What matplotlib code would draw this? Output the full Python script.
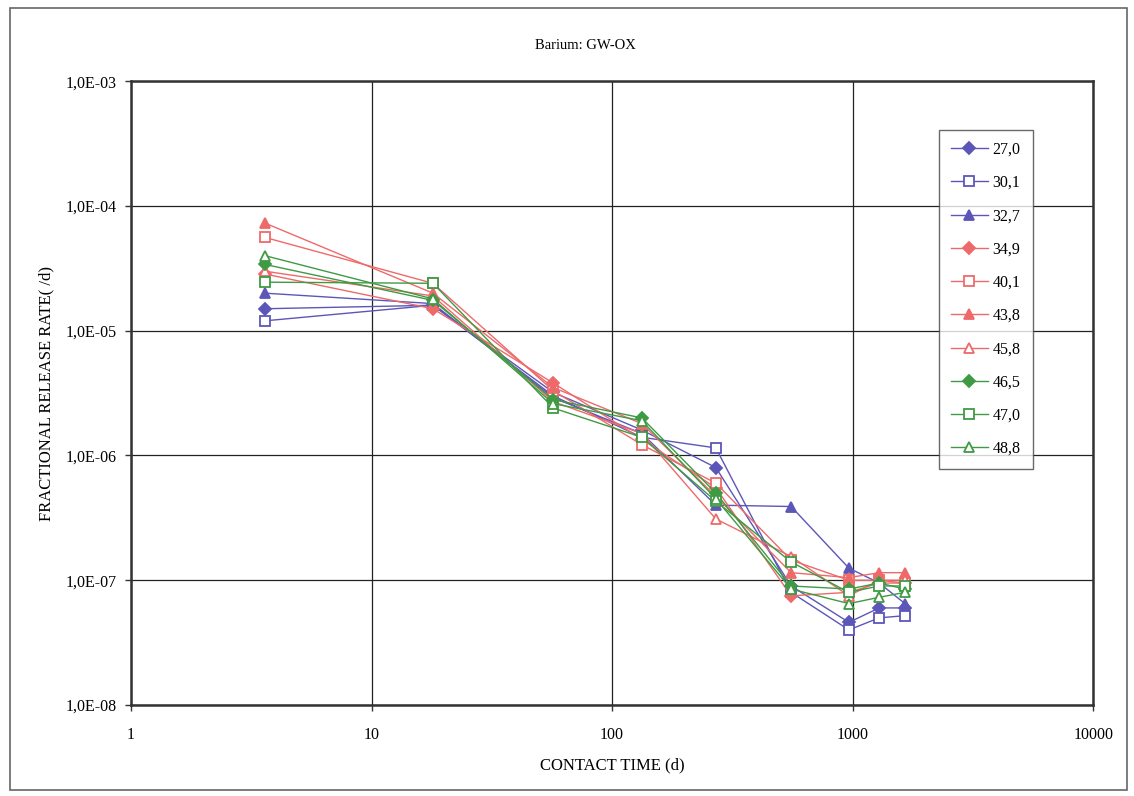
import matplotlib
matplotlib.use("Agg")
import matplotlib.pyplot as plt
from matplotlib.ticker import FuncFormatter, LogLocator, NullLocator
import numpy as np

# Contact times (d)
contact_time = [3.6, 18, 57, 133, 270, 555, 965, 1290, 1650]

# Series labels and fractional release rates (/d)
labels = ["27,0", "30,1", "32,7", "34,9", "40,1", "43,8", "45,8", "46,5", "47,0", "48,8"]

rate_27_0 = [1.5e-5, 1.6e-5, 3.2e-6, 1.6e-6, 8.0e-7, 9.0e-8, 4.6e-8, 6.0e-8, 6.0e-8]
rate_30_1 = [1.2e-5, 1.6e-5, 3.0e-6, 1.4e-6, 1.15e-6, 8.0e-8, 4.0e-8, 5.0e-8, 5.2e-8]
rate_32_7 = [2.0e-5, 1.65e-5, 2.9e-6, 1.5e-6, 4.0e-7, 3.9e-7, 1.25e-7, 9.5e-8, 6.5e-8]
rate_34_9 = [2.85e-5, 1.5e-5, 3.8e-6, 1.35e-6, 5.5e-7, 7.5e-8, 8.0e-8, 9.5e-8, 9.5e-8]
rate_40_1 = [5.6e-5, 2.4e-5, 3.3e-6, 1.22e-6, 6.0e-7, 1.45e-7, 1.0e-7, 1.0e-7, 9.5e-8]
rate_43_8 = [7.3e-5, 2.0e-5, 3.5e-6, 1.8e-6, 4.7e-7, 1.15e-7, 1.05e-7, 1.15e-7, 1.15e-7]
rate_45_8 = [3.0e-5, 1.9e-5, 2.7e-6, 1.5e-6, 3.1e-7, 1.55e-7, 7.5e-8, 1.0e-7, 1.0e-7]
rate_46_5 = [3.4e-5, 1.75e-5, 2.8e-6, 2.0e-6, 5.0e-7, 9.0e-8, 8.5e-8, 9.5e-8, 8.5e-8]
rate_47_0 = [2.45e-5, 2.4e-5, 2.4e-6, 1.4e-6, 4.3e-7, 1.4e-7, 8.0e-8, 9.0e-8, 9.0e-8]
rate_48_8 = [4.0e-5, 1.8e-5, 2.6e-6, 1.9e-6, 4.5e-7, 8.5e-8, 6.5e-8, 7.3e-8, 8.0e-8]

series = [rate_27_0, rate_30_1, rate_32_7, rate_34_9, rate_40_1,
          rate_43_8, rate_45_8, rate_46_5, rate_47_0, rate_48_8]

blue = "#5c56b8"
red = "#ee6a6a"
green = "#3f9a44"
styles = [
    (blue, "D", True), (blue, "s", False), (blue, "^", True),
    (red, "D", True), (red, "s", False), (red, "^", True), (red, "^", False),
    (green, "D", True), (green, "s", False), (green, "^", False),
]

plt.rcParams["font.family"] = ["Liberation Serif", "DejaVu Serif"]

fig = plt.figure(figsize=(11.34, 7.96), dpi=100)
ax = fig.add_axes([0.1155, 0.1143, 0.8485, 0.7837])

for vals, lab, (col, mk, filled) in zip(series, labels, styles):
    ax.plot(contact_time, vals, color=col, lw=1.0, marker=mk,
            markersize=6.5 if mk != "D" else 6,
            markerfacecolor=col if filled else "white",
            markeredgecolor=col, markeredgewidth=1.3, label=lab)

ax.set_xscale("log")
ax.set_yscale("log")
ax.set_xlim(1, 10000)
ax.set_ylim(1e-8, 1e-3)

ax.xaxis.set_major_locator(LogLocator(base=10, numticks=10))
ax.xaxis.set_minor_locator(NullLocator())
ax.yaxis.set_major_locator(LogLocator(base=10, numticks=10))
ax.yaxis.set_minor_locator(NullLocator())
ax.xaxis.set_major_formatter(FuncFormatter(lambda v, p: "%d" % round(v)))
ax.yaxis.set_major_formatter(FuncFormatter(
    lambda v, p: "1,0E-%02d" % round(-np.log10(v))))

ax.tick_params(axis="both", which="major", length=4, width=1, labelsize=11.5,
               color="#333333", pad=6)
ax.tick_params(axis="x", pad=12)
ax.grid(True, which="major", color="#222222", lw=0.9)
for sp in ax.spines.values():
    sp.set_color("#333333")
    sp.set_linewidth(1.8)

ax.set_xlabel("CONTACT TIME (d)", fontsize=12, labelpad=10)
ax.set_ylabel("FRACTIONAL RELEASE RATE( /d)", fontsize=12, labelpad=8)
fig.text(0.516, 0.943, "Barium: GW-OX", ha="center", va="center", fontsize=10.5)

leg = ax.legend(loc="upper right", bbox_to_anchor=(0.937, 0.922),
                fontsize=11.5, labelspacing=1.08, handlelength=2.3,
                handletextpad=0.3, borderpad=0.75, fancybox=False,
                frameon=True, borderaxespad=0)
leg.get_frame().set_edgecolor("#444444")
leg.get_frame().set_linewidth(1.0)

# outer chart border
fig.patches.append(plt.Rectangle((0.009, 0.008), 0.985, 0.982,
                                 transform=fig.transFigure, fill=False,
                                 edgecolor="#666666", lw=1.2))

fig.savefig("out.png", dpi=100)
